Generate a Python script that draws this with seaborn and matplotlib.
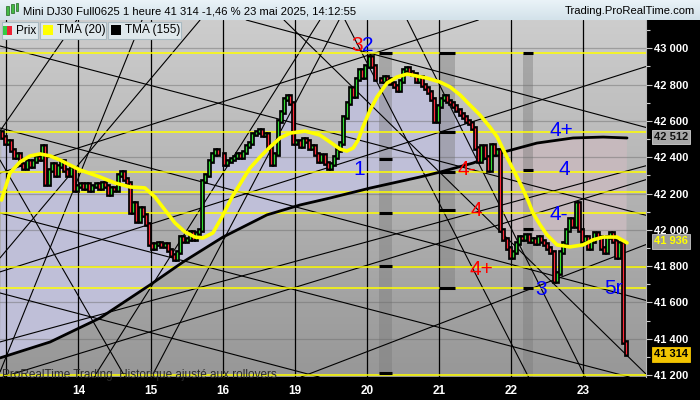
import numpy as np
import matplotlib
matplotlib.use("Agg")
import matplotlib.pyplot as plt
import matplotlib.transforms as mtrans
from matplotlib.patches import Rectangle
from matplotlib.colors import LinearSegmentedColormap
import seaborn as sns

sns.set_style("white")
plt.rcParams['font.family'] = ['Liberation Sans', 'DejaVu Sans']

# ---------------- data ----------------
first_open = 42540
closes = [
    42510, 42480, 42490, 42440, 42400, 42420, 42360, 42340, 42380, 42350,
    42380, 42400, 42390, 42460, 42250, 42330, 42360, 42300, 42350, 42380,
    42330, 42300, 42340, 42220, 42240, 42250, 42230, 42250, 42220, 42240,
    42250, 42230, 42260, 42240, 42200, 42230, 42220, 42300, 42320, 42280,
    42260, 42100, 42150, 42050, 42120, 42080, 42030, 41920, 41900, 41920,
    41930, 41910, 41920, 41890, 41860, 41840, 41880, 41960, 41940, 41950,
    41990, 41950, 41980, 42000, 42270, 42300, 42380, 42420, 42440, 42420,
    42420, 42360, 42380, 42390, 42400, 42420, 42400, 42430, 42460, 42480,
    42530, 42540, 42550, 42520, 42530, 42450, 42360, 42420, 42600, 42650,
    42720, 42740, 42700, 42480, 42490, 42460, 42500, 42490, 42450, 42460,
    42420, 42380, 42410, 42370, 42340, 42360, 42400, 42440, 42480, 42620,
    42700, 42780, 42740, 42830, 42880, 42840, 42900, 42950, 42900, 42830,
    42830, 42820, 42840, 42830, 42810, 42790, 42770, 42820, 42880, 42890,
    42870, 42860, 42820, 42840, 42800, 42780, 42760, 42720, 42600, 42680,
    42720, 42740, 42710, 42700, 42680, 42660, 42640, 42620, 42600, 42590,
    42560, 42450, 42380, 42460, 42400, 42330, 42470, 42420, 42440, 42000,
    41950, 41900, 41850, 41880, 41930, 41960, 41950, 41970, 41940, 41950,
    41930, 41960, 41940, 41920, 41900, 41880, 41720, 41760, 41880, 41930,
    42000, 42060, 42020, 42150, 42000, 41940, 41960, 41900, 41940, 41980,
    41960, 41900, 41880, 41960, 41980, 41940, 41850, 41930, 41380, 41314,
]

day_labels = ['14', '15', '16', '19', '20', '21', '22', '23']
day_start_bars = [25, 48, 71, 94, 117, 140, 163, 186]
unlabeled_day_starts = [2]

tma20_x = [0, 2.7, 5.9, 9.1, 12.3, 15.5, 18.6, 21.8, 25, 31.4, 36.2, 41, 45.7,
           48.9, 52.1, 55.3, 58.5, 61.7, 64.2, 67.4, 70.3, 73.5, 77.6, 79.2,
           82.4, 85.6, 88.8, 92, 96.8, 101.5, 104.7, 107.9, 110.1, 112.1, 113.7,
           115.2, 117.5, 119.7, 122.9, 126.1, 129.3, 132.4, 135.6, 139.8, 143,
           146.2, 149.3, 152.5, 155.7, 158, 161.1, 165.3, 167.8, 169.4, 171.7,
           173.9, 177.1, 181.2, 185.4, 188.6, 191.8, 196.2, 199.4]
tma20_y = [42164, 42313, 42374, 42407, 42418, 42407, 42385, 42357, 42330, 42291,
           42258, 42236, 42231, 42181, 42109, 42038, 41988, 41960, 41955, 41983,
           42071, 42181, 42296, 42340, 42401, 42456, 42506, 42533, 42544, 42522,
           42484, 42445, 42434, 42451, 42495, 42566, 42660, 42732, 42809, 42842,
           42858, 42847, 42836, 42814, 42787, 42743, 42688, 42633, 42566, 42512,
           42401, 42258, 42164, 42093, 42027, 41972, 41917, 41906, 41917, 41945,
           41960, 41960, 41928]

tma155_x = [-0.5, 15.5, 31.4, 47.3, 57.9, 70.6, 84.6, 95.2, 104.7, 117.5, 133.4,
            139.8, 150.3, 158.9, 170.7, 182.2, 191.8, 199.4]
tma155_y = [41294, 41382, 41514, 41696, 41823, 41960, 42082, 42137, 42175, 42230,
            42291, 42318, 42368, 42423, 42478, 42506, 42511, 42506]

yellow_levels = [42974, 42540, 42320, 42210, 42095, 41797, 41678, 41200]

# trend lines: two points each (bar index, price)
trend_x0 = [-0.5, 78, -0.5, -0.5, -0.5, 90.05, 129.3, 109.5, -0.5, -0.5,
            -0.5, 95.5, -0.5, -0.5, -0.5, -0.48, 29.5, -1.12, 47.3]
trend_p0 = [43013, 43156, 42561, 42093, 41652, 43156, 43156, 43156, 42544, 42313,
            41184, 41189, 41768, 41382, 42385, 41845, 41189, 41189, 41172]
trend_x1 = [205, 205, 205, 205, 105, 205.1, 186.6, 139, 24, 152,
            205, 206.7, 205, 104.7, 39.4, 63.3, 101.5, 44.8, 107.6]
trend_p1 = [42082, 42566, 41613, 41167, 41172, 41211, 41172, 42164, 43156, 43156,
            42274, 41927, 42897, 41878, 41189, 43156, 43156, 43156, 43156]

band_x0 = [120.3, 139.5, 166.2]
band_x1 = [124.5, 144.6, 169.4]
band_top = [42974, 42974, 42974]
band_bottom = [41200, 41678, 41189]
band_marks = [[42974, 42390, 42093, 41800, 41210],
              [42974, 42540, 42320, 42110, 41678],
              [42974, 42330, 42005, 41678]]

wave_text = ['3', '2', '1', '4+', '4', '4-', '4', '4-', '4+', '3', '5r']
wave_x = [113.3, 116.8, 114, 178.4, 179.3, 148.4, 151.3, 177.7, 152.9, 172, 195.2]
wave_p = [43018, 43018, 42330, 42549, 42330, 42330, 42104, 42082, 41780, 41670, 41675]
wave_col = ['red', 'blue', 'blue', 'blue', 'blue', 'red', 'red', 'blue', 'red', 'blue', 'blue']

last_tma155 = 42512
last_tma20 = 41936
last_price = 41314

# ---------------- figure ----------------
W, H = 700, 400
fig = plt.figure(figsize=(7, 4), dpi=100, facecolor='black')
ax = fig.add_axes([0, 23 / H, 646 / W, 357 / H])
XMIN, XMAX = -0.48, 205.45
YMIN, YMAX = 41189, 43156

bg = LinearSegmentedColormap.from_list('bg', ['#cdcdcd', '#979797'])
ax.imshow(np.linspace(0, 1, 256).reshape(-1, 1), extent=[XMIN, XMAX, YMIN, YMAX],
          aspect='auto', cmap=bg, zorder=0, interpolation='bilinear')

n = len(closes)
xs = np.arange(n)
opens = [first_open] + closes[:-1]

# fills between price and TMA155
t155x = np.array(tma155_x)
t155y = np.array(tma155_y)
cross = 158.9
up_poly = [(i, closes[i]) for i in range(0, 159)] + \
          [(x, y) for x, y in zip(t155x[::-1], t155y[::-1]) if x <= cross]
ax.add_patch(plt.Polygon(up_poly, closed=True, facecolor='#bfbfd8', edgecolor='none', zorder=1))
dn_poly = [(x, y) for x, y in zip(t155x, t155y) if x >= cross] + \
          [(i, closes[i]) for i in range(n - 1, 158, -1)]
ax.add_patch(plt.Polygon(dn_poly, closed=True, facecolor='#c6b9bd', edgecolor='none', zorder=1))

# gray bands
for x0, x1, t, b, marks in zip(band_x0, band_x1, band_top, band_bottom, band_marks):
    ax.add_patch(Rectangle((x0, b), x1 - x0, t - b, facecolor='#7a7a7a', alpha=0.42,
                           edgecolor='none', zorder=1.5))
    ax.hlines(marks, x0, x1, colors='black', linewidth=2.2, zorder=6)

# price grid
for v in range(41200, 43001, 200):
    ax.axhline(v, color='#6a6a6a', linewidth=0.9, alpha=0.45, zorder=2)

# day separators
for d in unlabeled_day_starts + day_start_bars:
    ax.axvline(d - 0.5, color='black', linewidth=0.9, zorder=3)

# trend lines
for x0, p0, x1, p1 in zip(trend_x0, trend_p0, trend_x1, trend_p1):
    ax.axline((x0, p0), (x1, p1), color='black', linewidth=0.8, zorder=3)

# yellow levels
for v in yellow_levels:
    ax.axhline(v, color='#ffff00', linewidth=1.1, zorder=4)

# TMA 155
sns.lineplot(x=tma155_x, y=tma155_y, ax=ax, color='black', linewidth=2.0, zorder=5,
             sort=False, legend=False)

# candles
lo = np.minimum(opens, closes)
hi = np.maximum(opens, closes)
ax.vlines(xs, lo, hi, colors='black', linewidth=3.4, zorder=6, capstyle='projecting')
cols = ['#33dd33' if c >= o else '#ff2a3a' for o, c in zip(opens, closes)]
ax.vlines(xs, lo, hi, colors=cols, linewidth=0.9, zorder=7)

# TMA 20
sns.lineplot(x=tma20_x, y=tma20_y, ax=ax, color='#ffff00', linewidth=2.6, zorder=8,
             sort=False, legend=False)

# wave labels
for t, x, p, c in zip(wave_text, wave_x, wave_p, wave_col):
    ax.text(x, p, t, color=c, fontsize=15, ha='center', va='center', zorder=9)

ax.text(0.003, 0.006, 'ProRealTime Trading  Historique ajusté aux rollovers',
        transform=ax.transAxes, fontsize=8.5, color='#2a2a2a', ha='left', va='center', zorder=9)

ax.set_xlabel('')
ax.set_ylabel('')

# axes styling
for s in ['top', 'left', 'bottom']:
    ax.spines[s].set_visible(False)
ax.spines['right'].set_color('#b8b8b8')
ax.spines['right'].set_linewidth(0.8)
ax.yaxis.tick_right()
ax.set_yticks(range(41200, 43001, 200))
ax.set_yticks(range(41200, 43101, 100), minor=True)
ax.set_yticklabels([f"{v:,}".replace(',', ' ') for v in range(41200, 43001, 200)])
ax.tick_params(axis='y', which='major', colors='#cccccc', labelcolor='white', length=4,
               width=0.8, pad=2, labelsize=8)
ax.tick_params(axis='y', which='minor', colors='#cccccc', length=3, width=0.8)
for lab in ax.get_yticklabels():
    lab.set_fontweight('bold')
ax.set_xticks([d - 0.5 for d in day_start_bars])
ax.set_xticklabels(day_labels)
ax.tick_params(axis='x', colors='#cccccc', labelcolor='white', length=3, width=0.8,
               pad=3, labelsize=8.5)
for lab in ax.get_xticklabels():
    lab.set_fontweight('bold')
ax.set_xlim(XMIN, XMAX)
ax.set_ylim(YMIN, YMAX)

# value boxes on the right axis
tr = mtrans.blended_transform_factory(ax.transAxes, ax.transData)
ax.text(1.012, last_tma155, f"{last_tma155:,}".replace(',', ' '), transform=tr,
        fontsize=8, fontweight='bold', color='#111111', va='center', ha='left', zorder=10,
        bbox=dict(boxstyle='square,pad=0.2', facecolor='#a8a8a8', edgecolor='#d0d0d0', linewidth=0.6),
        clip_on=False)
ax.text(1.012, last_tma20, f"{last_tma20:,}".replace(',', ' '), transform=tr,
        fontsize=8, fontweight='bold', color='#ffff00', va='center', ha='left', zorder=10,
        bbox=dict(boxstyle='square,pad=0.2', facecolor='#9a9a9a', edgecolor='#c8c8c8', linewidth=0.6),
        clip_on=False)
ax.text(1.012, last_price, f"{last_price:,}".replace(',', ' '), transform=tr,
        fontsize=8, fontweight='bold', color='black', va='center', ha='left', zorder=10,
        bbox=dict(boxstyle='square,pad=0.2', facecolor='#f2c400', edgecolor='#f2c400', linewidth=0.6),
        clip_on=False)

# ---------------- title bar ----------------
tax = fig.add_axes([0, 380 / H, 1, 20 / H])
tax.imshow(np.linspace(0, 1, 64).reshape(-1, 1), extent=[0, 1, 0, 1], aspect='auto',
           cmap=LinearSegmentedColormap.from_list('tb', ['#eaf3f8', '#d3e2ea']), zorder=0)
tax.set_xlim(0, 1)
tax.set_ylim(0, 1)
tax.axis('off')
tax.text(23 / W, 0.45, 'Mini DJ30 Full0625 1 heure 41 314 -1,46 % 23 mai 2025, 14:12:55',
         fontsize=8.1, color='black', ha='left', va='center')
tax.text(695 / W, 0.45, 'Trading.ProRealTime.com', fontsize=8.1, color='black',
         ha='right', va='center')
tax.add_patch(Rectangle((6 / W, 0.25), 3 / W, 0.45, facecolor='#44bb44', edgecolor='#226622', lw=0.5))
tax.add_patch(Rectangle((11 / W, 0.35), 3 / W, 0.45, facecolor='#44bb44', edgecolor='#226622', lw=0.5))
tax.add_patch(Rectangle((16 / W, 0.45), 2 / W, 0.4, facecolor='#44bb44', edgecolor='#226622', lw=0.5))


# ---------------- legend boxes ----------------
def fx(px):
    return px / W


def fy(py):
    return 1 - py / H


leg_items = [(2, 38, 'Prix'), (40, 106, 'TMA (20)'), (108, 181, 'TMA (155)')]
for (x0, x1, lab) in leg_items:
    fig.add_artist(Rectangle((fx(x0), fy(39)), fx(x1 - x0), 17 / H, transform=fig.transFigure,
                             facecolor='#dfe8ec', edgecolor='#a9bac2', linewidth=0.8, zorder=20))
fig.add_artist(Rectangle((fx(3), fy(35)), fx(4), 9 / H, transform=fig.transFigure,
                         facecolor='#33cc44', edgecolor='none', zorder=21))
fig.add_artist(Rectangle((fx(7), fy(35)), fx(5), 9 / H, transform=fig.transFigure,
                         facecolor='#ee2233', edgecolor='none', zorder=21))
fig.add_artist(Rectangle((fx(43), fy(35)), fx(10), 10 / H, transform=fig.transFigure,
                         facecolor='#ffff00', edgecolor='none', zorder=21))
fig.add_artist(Rectangle((fx(111), fy(35)), fx(10), 10 / H, transform=fig.transFigure,
                         facecolor='black', edgecolor='none', zorder=21))
fig.text(fx(16), fy(30.5), 'Prix', fontsize=8.5, color='black', va='center', ha='left', zorder=22)
fig.text(fx(57), fy(30.5), 'TMA (20)', fontsize=8.5, color='black', va='center', ha='left', zorder=22)
fig.text(fx(125), fy(30.5), 'TMA (155)', fontsize=8.5, color='black', va='center', ha='left', zorder=22)

fig.savefig('out.png', dpi=100, facecolor='black')
